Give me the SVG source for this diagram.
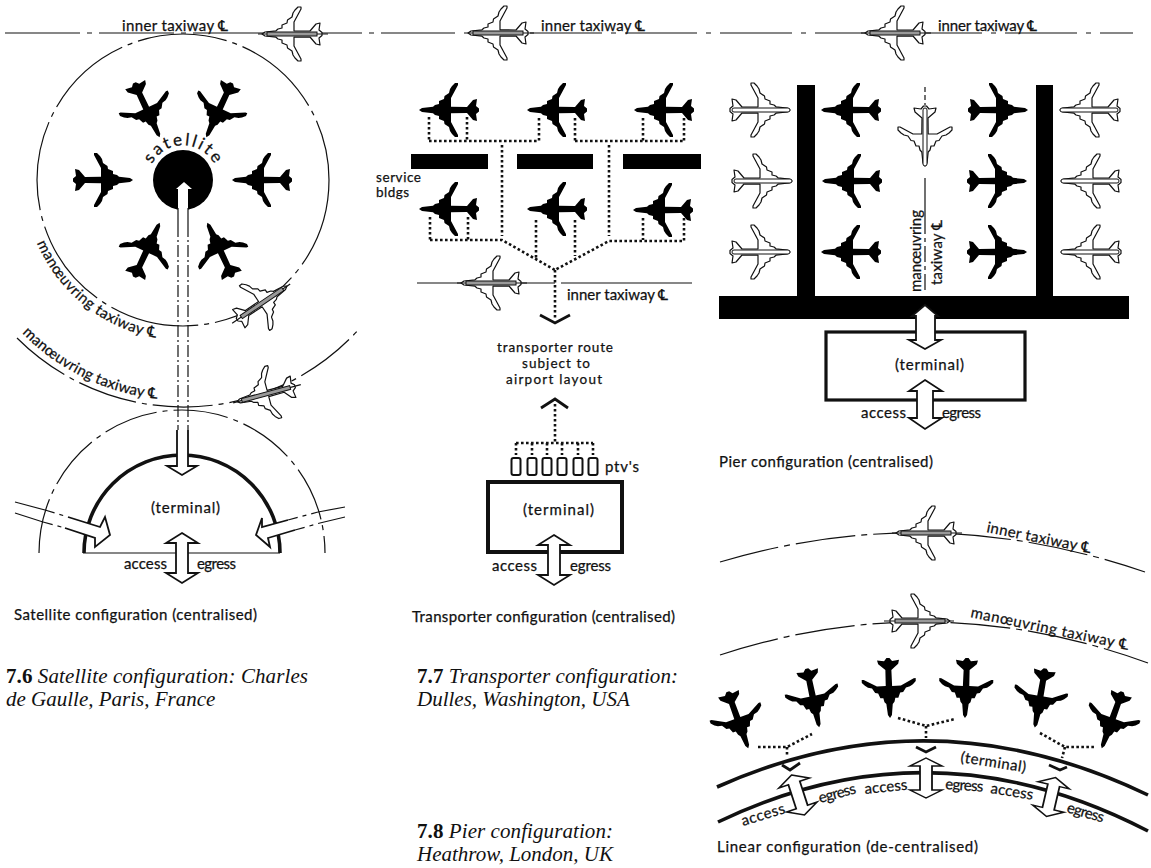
<svg xmlns="http://www.w3.org/2000/svg" xmlns:xlink="http://www.w3.org/1999/xlink" width="1151" height="868" viewBox="0 0 1151 868">
<style>
text{font-family:Lato,"DejaVu Sans",sans-serif;font-size:15px;fill:#111;stroke:#111;stroke-width:.25}
.sm{font-size:13.500px}
.cap{font-family:"Liberation Serif",serif;font-style:italic;font-size:21px;stroke:none}
.cap tspan{font-weight:bold;font-style:normal}
.t{fill:none;stroke:#111;stroke-width:1.2}
.d{fill:none;stroke:#111;stroke-width:2.6;stroke-dasharray:2.6 2.4}
.c{fill:none;stroke:#111;stroke-width:2.8}
.th{fill:none;stroke:#111;stroke-width:3.6}
.ar{fill:#fff;stroke:#111;stroke-width:1.8;stroke-linejoin:miter}
.b{fill:#000}
.w{fill:#fff;stroke:#111;stroke-width:1.2;stroke-linejoin:round}
.f{fill:#fff;stroke:#111;stroke-width:1}
.g{fill:#999;stroke:#111;stroke-width:1}
</style>
<defs>
<path id="pl" d="M30 0L27 -2L16 -3.200L14 -5L10 -6L10 -9L5 -11L4.500 -14L0 -17L-1 -21L-3 -24L-6 -27L-9 -27L-9 -25L-2 -12L-2 -3.200L-18 -3L-24 -10L-28 -11L-27 -4L-30 -1.500L-30 1.500L-27 4L-28 11L-24 10L-18 3L-2 3.200L-2 12L-9 25L-9 27L-6 27L-3 24L-1 21L0 17L4.500 14L5 11L10 9L10 6L14 5L16 3.200L27 2Z"/>
<g id="bp"><use href="#pl" class="b"/></g>
<g id="wp"><use href="#pl" class="w"/><rect x="-28" y="-2" width="58" height="4" rx="2" class="f"/></g>
<g id="gp"><use href="#pl" class="w"/><path d="M-36 0H34" stroke="#111" stroke-width="1.200"/><rect x="-25" y="-2" width="50" height="4" class="g"/></g>
<path id="da" class="ar" d="M0 -25L16 -15L6 -15L6 15L16 15L0 25L-16 15L-6 15L-6 -15L-16 -15Z"/>
<path id="a1" d="M37 243A160 160 0 0 0 157 338"/>
<path id="a2" d="M22 333A226 226 0 0 0 158 399"/>
<path id="a3" d="M152 164A35 35 0 0 1 214 164"/>
</defs>
<rect width="1151" height="868" fill="#fff"/>

<g id="connectors">
<path class="t" stroke-dasharray="75 7 5 7" d="M5 33H455"/>
<path class="t" stroke-dasharray="72 9 5 9" d="M530 33H1133"/>
<circle class="t" cx="183" cy="180" r="146" stroke-dasharray="90 6 5 6"/>
<path class="t" stroke-dasharray="60 6 5 6" d="M17 338A236 236 0 0 0 360 328"/>
<path class="t" stroke-dasharray="55 6 5 6" d="M39 553A143 143 0 0 1 325 553"/>
<path class="t" stroke-dasharray="60 6 6 6" d="M417 283H562"/>
<path class="t" d="M562 283H692"/>
<path class="t" stroke-dasharray="60 6 6 6" d="M720 562Q932 499 1145 572"/>
<path class="t" stroke-dasharray="60 6 6 6" d="M720 655Q934 585 1148 663"/>
<path class="t" stroke-dasharray="5 3" d="M925 87V105"/>
<path class="t" d="M925 178V218"/>
<path class="t" stroke-dasharray="16 4 4 4" d="M925 218V292"/>
<path class="t" d="M15 502L45 510M15 513L43 522M318 512L345 507M320 523L345 517"/>
<path class="t" stroke-dasharray="10 5 4 5" d="M45 510L68 517M43 522L65 528M288 520L318 512M295 530L320 523"/>
</g>

<g id="satellite">
<circle cx="183" cy="180" r="30" fill="#000"/>
<text style="font-size:17px"><textPath href="#a3" textLength="76">satellite</textPath></text>
<path d="M184 182L192 189H188V212H178V189H176Z" fill="#fff"/>
<path class="t" stroke-width="2.5" d="M178 208V225M188 208V225"/>
<path class="t" stroke-dasharray="12 3 2 3" stroke-width="1.5" d="M178 225V430M188 225V430"/>
<use href="#bp" transform="translate(103,180)"/>
<use href="#bp" transform="translate(262,180) rotate(180)"/>
<use href="#bp" transform="translate(147,110) rotate(65)"/>
<use href="#bp" transform="translate(219,110) rotate(115)"/>
<use href="#bp" transform="translate(147,250) rotate(-65)"/>
<use href="#bp" transform="translate(220,250) rotate(-115)"/>
<use href="#gp" transform="translate(262,303) rotate(-34)"/>
<use href="#gp" transform="translate(266,394) rotate(165)"/>
<use href="#gp" transform="translate(292,34) rotate(180)"/>
<text x="122" y="31" textLength="106">inner taxiway ℄</text>
<text><textPath href="#a1" textLength="158">manœuvring taxiway ℄</textPath></text>
<text><textPath href="#a2" textLength="153">manœuvring taxiway ℄</textPath></text>
</g>

<g id="satellite-terminal">
<path class="th" stroke-width="4" d="M84 553A98 98 0 0 1 280 553"/>
<path class="t" d="M83 553H280"/>
<path class="ar" d="M177 430V466H167L182 475L197 466H188V430" stroke-width="2"/>
<path class="ar" stroke-width="2" d="M68 517L100 527L105 517L110 535L95 547L95 538L65 528"/>
<path class="ar" stroke-width="2" d="M288 520L262 527L262 518L256 535L270 547L268 538L295 530"/>
<use href="#da" x="182" y="558"/>
<text x="151" y="513" textLength="69">(terminal)</text>
<text x="124" y="569" textLength="43">access</text>
<text x="197" y="569" textLength="39">egress</text>
<text x="14" y="620" textLength="243">Satellite configuration (centralised)</text>
</g>

<g id="transporter">
<use href="#gp" transform="translate(498,33) rotate(180)"/>
<text x="541" y="31" textLength="104">inner taxiway ℄</text>
<rect class="b" x="411" y="154" width="77" height="15"/>
<rect class="b" x="517" y="154" width="76" height="15"/>
<rect class="b" x="623" y="154" width="78" height="15"/>
<use href="#bp" transform="translate(449,110) rotate(180)"/>
<use href="#bp" transform="translate(557,110) rotate(180)"/>
<use href="#bp" transform="translate(664,110) rotate(180)"/>
<use href="#bp" transform="translate(449,209) rotate(180)"/>
<use href="#bp" transform="translate(557,209) rotate(180)"/>
<use href="#bp" transform="translate(663,210) rotate(180)"/>
<path class="d" d="M429 117V141M467 117V141M429 141H539M539 118V141M575 118V141M575 141H685M643 118V141M684 118V141"/>
<path class="d" d="M502 145V236M609 145V236M430 217V240M468 217V240M430 240H502L555 270M684 218V241H609L555 270M536 220V258M575 220V256M643 218V240M555 270V318"/>
<path class="c" d="M540 315L555 323L570 315"/>
<use href="#gp" transform="translate(491,283) rotate(180)"/>
<text class="sm" x="376" y="182" textLength="45">service</text>
<text class="sm" x="376" y="197" textLength="33">bldgs</text>
<text x="567" y="300" textLength="101">inner taxiway ℄</text>
<text class="sm" x="497" y="352" textLength="116">transporter route</text>
<text class="sm" x="522" y="368" textLength="68">subject to</text>
<text class="sm" x="506" y="384" textLength="96">airport layout</text>
<path class="c" d="M541 408L555 399L568 408"/>
<path class="d" d="M555 404V442M516 443H593M516 443V455M532 443V455M547 443V455M562 443V455M578 443V455M593 443V455"/>
<g fill="#fff" stroke="#111" stroke-width="2"><rect x="511.500" y="458" width="9" height="17" rx="2"/><rect x="527.500" y="458" width="9" height="17" rx="2"/><rect x="542.500" y="458" width="9" height="17" rx="2"/><rect x="557.500" y="458" width="9" height="17" rx="2"/><rect x="573.500" y="458" width="9" height="17" rx="2"/><rect x="588.500" y="458" width="9" height="17" rx="2"/></g>
<text x="605" y="472" textLength="34">ptv's</text>
<rect x="488" y="482" width="134" height="70" fill="#fff" stroke="#111" stroke-width="4"/>
<use href="#da" x="554" y="560"/>
<text x="523" y="515" textLength="71">(terminal)</text>
<text x="492" y="571" textLength="45">access</text>
<text x="570" y="571" textLength="41">egress</text>
<text x="412" y="622" textLength="263">Transporter configuration (centralised)</text>
</g>

<g id="pier">
<use href="#gp" transform="translate(895,33) rotate(180)"/>
<text x="938" y="31" textLength="99">inner taxiway ℄</text>
<rect class="b" x="797" y="85" width="18" height="215"/>
<rect class="b" x="1036" y="85" width="17" height="215"/>
<rect class="b" x="719" y="296" width="410" height="23"/>
<use href="#wp" transform="translate(760,110)"/>
<use href="#wp" transform="translate(762,181)"/>
<use href="#wp" transform="translate(760,252)"/>
<use href="#bp" transform="translate(851,110) rotate(180)"/>
<use href="#bp" transform="translate(852,181) rotate(180)"/>
<use href="#bp" transform="translate(851,252) rotate(180)"/>
<use href="#bp" transform="translate(998,110)"/>
<use href="#bp" transform="translate(997,181)"/>
<use href="#bp" transform="translate(997,252)"/>
<use href="#wp" transform="translate(1090,110) rotate(180)"/>
<use href="#wp" transform="translate(1091,181) rotate(180)"/>
<use href="#wp" transform="translate(1091,252) rotate(180)"/>
<use href="#wp" transform="translate(925,136) rotate(90)"/>
<text transform="translate(921,292) rotate(-90)" textLength="82">manœuvring</text>
<text transform="translate(942,285) rotate(-90)" textLength="65">taxiway ℄</text>
<rect x="826" y="332" width="199" height="68" fill="#fff" stroke="#111" stroke-width="3.200"/>
<path class="ar" stroke-width="2" d="M925 305L938 316H935V340H941L925 349L909 340H916V316H912Z"/>
<path class="ar" stroke-width="2" d="M925 380L942 391H933V418H942L925 429L909 418H917V391H909Z"/>
<text x="895" y="370" textLength="69">(terminal)</text>
<text x="861" y="418" textLength="45">access</text>
<text x="942" y="418" textLength="39">egress</text>
<text x="719" y="467" textLength="214">Pier configuration (centralised)</text>
</g>

<g id="linear">
<use href="#gp" transform="translate(926,533) rotate(180)"/>
<use href="#gp" transform="translate(920,621)"/>
<text transform="translate(986,532) rotate(11.500)" textLength="106">inner taxiway ℄</text>
<text transform="translate(970,617) rotate(11.800)" textLength="161">manœuvring taxiway ℄</text>
<use href="#bp" transform="translate(738,720) rotate(70)"/>
<use href="#bp" transform="translate(813,698) rotate(78)"/>
<use href="#bp" transform="translate(889,688) rotate(88)"/>
<use href="#bp" transform="translate(966,688) rotate(92)"/>
<use href="#bp" transform="translate(1040,698) rotate(100)"/>
<use href="#bp" transform="translate(1112,720) rotate(110)"/>
<path class="d" d="M758 747H787L812 734M787 747V757M898 718L926 726L955 719M926 726V738M1040 733L1065 747H1095M1065 747L1062 758"/>
<path class="c" stroke-width="2.200" d="M782 765L790 770L800 763M916 747L926 752L936 747M1049 765L1060 770L1067 767"/>
<path class="th" d="M717 787Q932 691 1148 795"/>
<path class="th" d="M718 822Q932 719 1148 831"/>
<use href="#da" transform="translate(798,795) rotate(-18) scale(1,.84)"/>
<use href="#da" transform="translate(926,778) scale(1,.8)"/>
<use href="#da" transform="translate(1051,797) rotate(13) scale(1,.8)"/>
<text transform="translate(960,762) rotate(9)" textLength="66">(terminal)</text>
<text transform="translate(743,826) rotate(-17)" textLength="45">access</text>
<text transform="translate(820,803) rotate(-15)" textLength="38">egress</text>
<text transform="translate(865,794) rotate(-6)" textLength="43">access</text>
<text transform="translate(945,789) rotate(4)" textLength="38">egress</text>
<text transform="translate(990,793) rotate(9)" textLength="43">access</text>
<text transform="translate(1066,812) rotate(16)" textLength="38">egress</text>
<text x="717" y="852" textLength="261">Linear configuration (de-centralised)</text>
</g>

<g id="captions">
<text class="cap" x="6" y="683" textLength="302"><tspan>7.6</tspan> Satellite configuration: Charles</text>
<text class="cap" x="6" y="706">de Gaulle, Paris, France</text>
<text class="cap" x="417" y="683" textLength="261"><tspan>7.7</tspan> Transporter configuration:</text>
<text class="cap" x="417" y="706">Dulles, Washington, USA</text>
<text class="cap" x="417" y="838" textLength="196"><tspan>7.8</tspan> Pier configuration:</text>
<text class="cap" x="417" y="861">Heathrow, London, UK</text>
</g>
</svg>
